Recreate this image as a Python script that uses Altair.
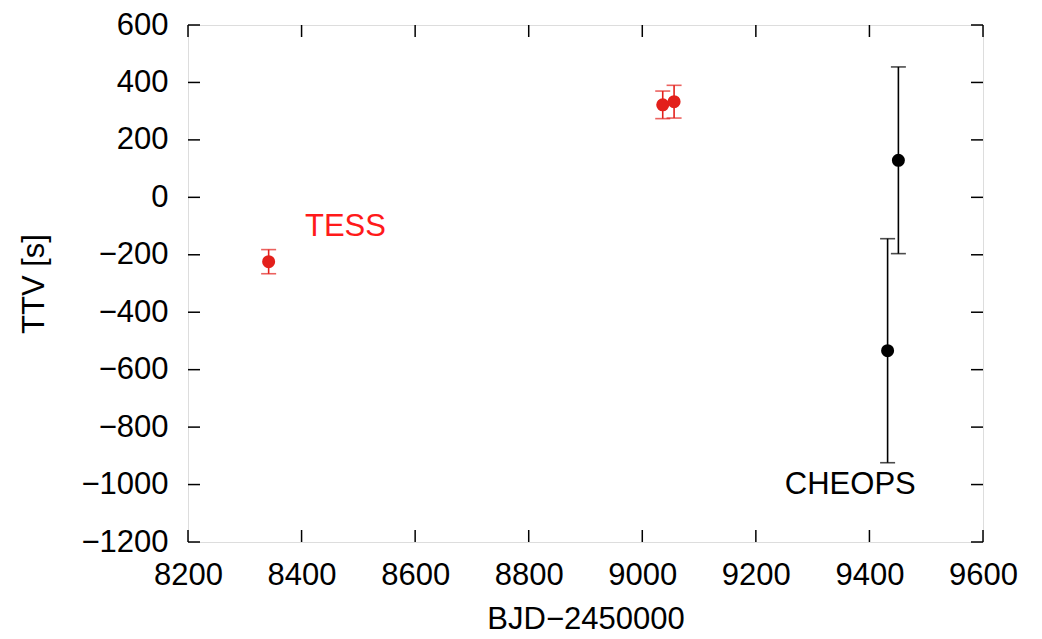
import altair as alt
import pandas as pd

# --- data ---
tess_x = [8342, 9036, 9056]
tess_y = [-224, 322, 333]
tess_err = [42, 48, 57]

cheops_x = [9432, 9451]
cheops_y = [-534, 129]
cheops_err = [390, 325]

x_ticks = [8200, 8400, 8600, 8800, 9000, 9200, 9400, 9600]
y_ticks = [-1200, -1000, -800, -600, -400, -200, 0, 200, 400, 600]

labels = ["TESS", "CHEOPS"]
label_x = [8406, 9251]
label_y = [-103, -1003]
label_color = ["#ff1a1a", "#000000"]

RED = "#e3201b"
BLACK = "#000000"
FONT = "Liberation Sans"
FS = 31
W, H = 795, 517
TICK = 12

tess = pd.DataFrame({"x": tess_x, "y": tess_y, "lo": [a - b for a, b in zip(tess_y, tess_err)],
                     "hi": [a + b for a, b in zip(tess_y, tess_err)]})
cheops = pd.DataFrame({"x": cheops_x, "y": cheops_y, "lo": [a - b for a, b in zip(cheops_y, cheops_err)],
                       "hi": [a + b for a, b in zip(cheops_y, cheops_err)]})
lab = pd.DataFrame({"t": labels, "x": label_x, "y": label_y, "c": label_color})
xt = pd.DataFrame({"v": x_ticks})
yt = pd.DataFrame({"v": y_ticks})

xscale = alt.Scale(domain=[8200, 9600], nice=False, zero=False)
yscale = alt.Scale(domain=[-1200, 600], nice=False, zero=False)

xaxis = alt.Axis(values=x_ticks, format="d", title="BJD\u22122450000", ticks=False, tickSize=0, grid=False,
                 domain=False, labelFont=FONT, labelFontSize=FS, labelColor="black",
                 labelPadding=18, titleFont=FONT, titleFontSize=FS, titleFontWeight="normal",
                 titleColor="black", titlePadding=14, labelFlush=False)
yaxis = alt.Axis(values=y_ticks, format="d", title="TTV [s]", ticks=False, tickSize=0, grid=False,
                 domain=False, labelFont=FONT, labelFontSize=FS, labelColor="black",
                 labelPadding=20, titleFont=FONT, titleFontSize=FS, titleFontWeight="normal",
                 titleColor="black", titlePadding=30, labelFlush=False)

def series(df, color):
    base = alt.Chart(df)
    bars = base.mark_rule(color=color, strokeWidth=1.6).encode(
        x=alt.X("x:Q", scale=xscale, axis=xaxis), y=alt.Y("lo:Q", scale=yscale, axis=yaxis), y2="hi:Q")
    cap_lo = base.mark_tick(color=color, orient="horizontal", size=15, thickness=1.6).encode(
        x=alt.X("x:Q", scale=xscale), y=alt.Y("lo:Q", scale=yscale))
    cap_hi = base.mark_tick(color=color, orient="horizontal", size=15, thickness=1.6).encode(
        x=alt.X("x:Q", scale=xscale), y=alt.Y("hi:Q", scale=yscale))
    pts = base.mark_circle(color=color, size=170, opacity=1).encode(
        x=alt.X("x:Q", scale=xscale), y=alt.Y("y:Q", scale=yscale))
    return bars + cap_lo + cap_hi + pts

tick_style = dict(color="black", strokeWidth=1.5)
bt = alt.Chart(xt).mark_rule(**tick_style).encode(
    x=alt.X("v:Q", scale=xscale), y=alt.value(H), y2=alt.value(H - TICK))
tt = alt.Chart(xt).mark_rule(**tick_style).encode(
    x=alt.X("v:Q", scale=xscale), y=alt.value(0), y2=alt.value(TICK))
lt = alt.Chart(yt).mark_rule(**tick_style).encode(
    y=alt.Y("v:Q", scale=yscale), x=alt.value(0), x2=alt.value(TICK))
rt = alt.Chart(yt).mark_rule(**tick_style).encode(
    y=alt.Y("v:Q", scale=yscale), x=alt.value(W), x2=alt.value(W - TICK))

texts = alt.Chart(lab).mark_text(font=FONT, fontSize=FS, align="left", baseline="middle").encode(
    x=alt.X("x:Q", scale=xscale), y=alt.Y("y:Q", scale=yscale),
    text="t:N", color=alt.Color("c:N", scale=None))

chart = alt.layer(
    series(tess, RED), series(cheops, BLACK), bt, tt, lt, rt, texts
).properties(
    width=W, height=H,
    autosize=alt.AutoSizeParams(type="none"),
    padding={"left": 188, "top": 25, "right": 59, "bottom": 97},
).configure_view(stroke="black", strokeWidth=2).configure(background="white")

chart.save("out.html", embed_options={"renderer": "svg", "actions": False})
